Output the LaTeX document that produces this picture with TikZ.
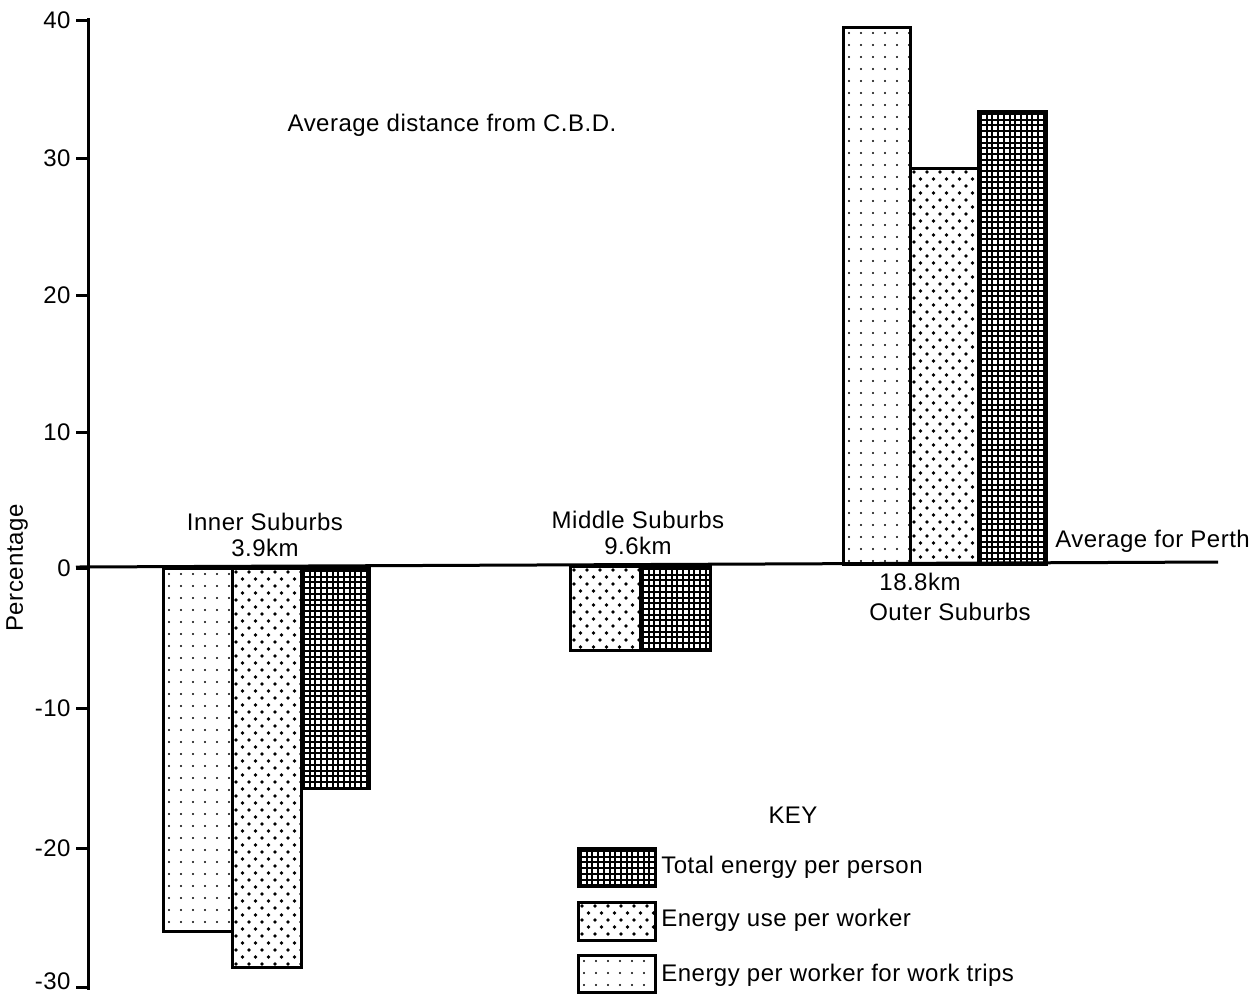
\documentclass[tikz,border=0pt]{standalone}
\usepackage{fontspec}
\setmainfont[LetterSpace=2]{Liberation Sans}
% fill patterns: sparse dots, staggered dots, dense grid
\newcommand\sparsefill[4]{%
  \begin{scope}\clip (#1,#2) rectangle (#3,#4);
    \foreach \yy in {6,18,...,600}{\foreach \xx in {6,18,...,100}{%
      \fill (#1+\xx,#2+\yy) circle[radius=0.55pt];}}
  \end{scope}}
\newcommand\staggerfill[4]{%
  \begin{scope}\clip (#1,#2) rectangle (#3,#4);
    \foreach \yy in {4,18,...,600}{\foreach \xx in {4,17,...,100}{%
      \fill (#1+\xx,#2+\yy) circle[radius=0.95pt];
      \fill (#1+\xx+6.5,#2+\yy+7) circle[radius=0.95pt];}}
  \end{scope}}
\newcommand\gridfill[4]{%
  \begin{scope}\clip (#1,#2) rectangle (#3,#4);
    \foreach \xx in {3,8.7,...,100}{\draw[line width=1pt] (#1+\xx,#2) -- (#1+\xx,#4);}
    \foreach \yy in {3,8.7,...,600}{\draw[line width=1pt] (#1,#2+\yy) -- (#3,#2+\yy);}
  \end{scope}}
\newcommand\barbox[4]{\draw[line width=1.5pt] (#1,#2) rectangle (#3,#4);}
\begin{document}
\begin{tikzpicture}[x=0.5pt,y=-0.5pt,
  lbl/.style={font=\fontsize{12}{14}\selectfont, inner sep=0pt},
  tick/.style={lbl, anchor=east}]
\useasboundingbox (0,0) rectangle (1258,993);

% axis
\coordinate (atop) at (88,18);
\coordinate (abot) at (88,990);
\draw[line width=1.5pt] (atop) -- (abot);
\foreach \v/\y/\ty in {40/20/20,30/158/158,20/295/295,10/432/432,0/568/568,-10/708/708,-20/848/848,-30/987/981}{
  \draw[line width=1.5pt] (76,\y) -- (88,\y);
  \node[tick] (t\v) at (71,\ty) {\v};
}
\node[lbl, rotate=90] (ylab) at (17,568) {Percentage};

% inner suburbs
\sparsefill{163}{568}{232}{931}\barbox{163}{568}{232}{931}
\staggerfill{232}{568}{301}{967}\barbox{232}{568}{301}{967}
\gridfill{301}{568}{369}{788}\barbox{301}{568}{369}{788}
% middle suburbs
\staggerfill{570}{566}{640}{650}\barbox{570}{566}{640}{650}
\gridfill{640}{566}{710}{650}\barbox{640}{566}{710}{650}
% outer suburbs
\sparsefill{843}{27}{910}{564}\barbox{843}{27}{910}{564}
\staggerfill{910}{168}{978}{564}\barbox{910}{168}{978}{564}
\gridfill{978}{111}{1046}{564}\barbox{978}{111}{1046}{564}

% zero line
\coordinate (zl) at (76,567);
\coordinate (zr) at (1218,562);
\draw[line width=1.5pt] (zl) -- (zr);

% labels
\node[lbl] (title) at (452,125) {Average distance from C.B.D.};
\node[lbl] (inn) at (265,522) {Inner Suburbs};
\node[lbl] (innd) at (265,548) {3.9km};
\node[lbl] (mid) at (638,520) {Middle Suburbs};
\node[lbl] (midd) at (638,546) {9.6km};
\node[lbl] (outd) at (920,582) {18.8km};
\node[lbl] (out) at (950,612) {Outer Suburbs};
\node[lbl, anchor=west] (avg) at (1055,541) {Average for Perth};

% key
\node[lbl] (key) at (793,815) {KEY};
\gridfill{578}{848}{655}{886}\barbox{578}{848}{655}{886}
\staggerfill{578}{902}{655}{940}\barbox{578}{902}{655}{940}
\sparsefill{578}{955}{655}{992}\barbox{578}{955}{655}{992}
\node[lbl, anchor=west] (k1) at (661,867) {Total energy per person};
\node[lbl, anchor=west] (k2) at (661,920) {Energy use per worker};
\node[lbl, anchor=west] (k3) at (661,975) {Energy per worker for work trips};
\end{tikzpicture}
\end{document}
